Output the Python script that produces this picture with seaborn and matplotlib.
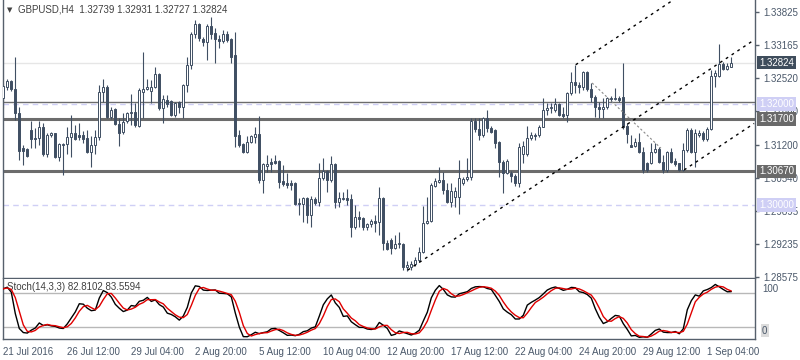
import matplotlib
matplotlib.use("Agg")
import matplotlib.pyplot as plt
import matplotlib.transforms as mtransforms
import numpy as np
import pandas as pd
import seaborn as sns

# GBPUSD H4 bars
opens = [
    1.3212, 1.3234, 1.3246, 1.3230, 1.3183, 1.3113, 1.3111, 1.3149, 1.3133, 1.3133,
    1.3155, 1.3102, 1.3139, 1.3143, 1.3096, 1.3119, 1.3121, 1.3135, 1.3143, 1.3139,
    1.3139, 1.3133, 1.3106, 1.3119, 1.3135, 1.3224, 1.3234, 1.3175, 1.3190, 1.3161,
    1.3145, 1.3167, 1.3183, 1.3185, 1.3157, 1.3224, 1.3230, 1.3226, 1.3234, 1.3260,
    1.3192, 1.3208, 1.3206, 1.3179, 1.3204, 1.3194, 1.3238, 1.3278, 1.3339, 1.3359,
    1.3329, 1.3323, 1.3355, 1.3341, 1.3329, 1.3325, 1.3339, 1.3329, 1.3297, 1.3139,
    1.3121, 1.3106, 1.3125, 1.3135, 1.3141, 1.3050, 1.3078, 1.3086, 1.3088, 1.3088,
    1.3048, 1.3044, 1.3044, 1.3044, 1.3005, 1.3003, 1.3015, 1.2981, 1.3013, 1.3007,
    1.3054, 1.3068, 1.3050, 1.3082, 1.3007, 1.3013, 1.3015, 1.3013, 1.2957, 1.2977,
    1.2975, 1.2957, 1.2963, 1.2969, 1.2967, 1.3015, 1.2926, 1.2931, 1.2916, 1.2924,
    1.2924, 1.2878, 1.2878, 1.2884, 1.2892, 1.2908, 1.2965, 1.2969, 1.3038, 1.3046,
    1.3050, 1.3030, 1.3007, 1.3017, 1.3017, 1.3044, 1.3052, 1.3056, 1.3167, 1.3151,
    1.3139, 1.3173, 1.3153, 1.3149, 1.3125, 1.3086, 1.3064, 1.3064, 1.3058, 1.3044,
    1.3102, 1.3102, 1.3133, 1.3139, 1.3139, 1.3155, 1.3189, 1.3192, 1.3189, 1.3200,
    1.3181, 1.3179, 1.3222, 1.3244, 1.3238, 1.3234, 1.3264, 1.3230, 1.3214, 1.3194,
    1.3190, 1.3194, 1.3212, 1.3210, 1.3212, 1.3214, 1.3157, 1.3119, 1.3117, 1.3125,
    1.3106, 1.3084, 1.3084, 1.3106, 1.3111, 1.3086, 1.3070, 1.3106, 1.3088, 1.3084,
    1.3070, 1.3109, 1.3149, 1.3106, 1.3139, 1.3143, 1.3131, 1.3151, 1.3256, 1.3256,
    1.3280, 1.3270, 1.32739,
]
highs = [
    1.3242, 1.3250, 1.3248, 1.3293, 1.3194, 1.3119, 1.3113, 1.3167, 1.3153, 1.3167,
    1.3163, 1.3143, 1.3145, 1.3143, 1.3123, 1.3123, 1.3155, 1.3179, 1.3159, 1.3163,
    1.3147, 1.3149, 1.3137, 1.3149, 1.3238, 1.3250, 1.3238, 1.3194, 1.3192, 1.3173,
    1.3183, 1.3185, 1.3220, 1.3202, 1.3232, 1.3303, 1.3250, 1.3248, 1.3274, 1.3262,
    1.3218, 1.3218, 1.3208, 1.3204, 1.3206, 1.3240, 1.3293, 1.3343, 1.3367, 1.3361,
    1.3333, 1.3359, 1.3372, 1.3351, 1.3337, 1.3347, 1.3345, 1.3331, 1.3343, 1.3149,
    1.3123, 1.3137, 1.3139, 1.3155, 1.3177, 1.3084, 1.3100, 1.3094, 1.3100, 1.3090,
    1.3080, 1.3064, 1.3050, 1.3046, 1.3015, 1.3017, 1.3017, 1.3019, 1.3017, 1.3084,
    1.3094, 1.3070, 1.3098, 1.3084, 1.3026, 1.3026, 1.3032, 1.3022, 1.3001, 1.2989,
    1.2977, 1.2965, 1.2973, 1.2981, 1.3036, 1.3017, 1.2931, 1.2935, 1.2941, 1.2947,
    1.2926, 1.2890, 1.2890, 1.2898, 1.2918, 1.2999, 1.3017, 1.3044, 1.3054, 1.3076,
    1.3066, 1.3044, 1.3044, 1.3036, 1.3090, 1.3056, 1.3094, 1.3173, 1.3173, 1.3173,
    1.3175, 1.3189, 1.3157, 1.3151, 1.3127, 1.3090, 1.3092, 1.3068, 1.3062, 1.3123,
    1.3127, 1.3157, 1.3145, 1.3143, 1.3159, 1.3212, 1.3202, 1.3202, 1.3212, 1.3202,
    1.3194, 1.3224, 1.3264, 1.3278, 1.3244, 1.3266, 1.3266, 1.3242, 1.3218, 1.3204,
    1.3212, 1.3214, 1.3216, 1.3232, 1.3216, 1.3281, 1.3163, 1.3139, 1.3133, 1.3143,
    1.3115, 1.3086, 1.3123, 1.3123, 1.3115, 1.3100, 1.3107, 1.3113, 1.3094, 1.3084,
    1.3123, 1.3153, 1.3153, 1.3151, 1.3149, 1.3147, 1.3155, 1.3268, 1.3268, 1.3319,
    1.3283, 1.3281, 1.32931,
]
lows = [
    1.3192, 1.3228, 1.3226, 1.3169, 1.3090, 1.3080, 1.3096, 1.3113, 1.3113, 1.3119,
    1.3098, 1.3096, 1.3135, 1.3094, 1.3088, 1.3060, 1.3102, 1.3096, 1.3129, 1.3129,
    1.3123, 1.3104, 1.3076, 1.3102, 1.3129, 1.3204, 1.3173, 1.3171, 1.3159, 1.3117,
    1.3141, 1.3163, 1.3159, 1.3155, 1.3155, 1.3173, 1.3228, 1.3202, 1.3232, 1.3189,
    1.3163, 1.3194, 1.3177, 1.3175, 1.3183, 1.3173, 1.3224, 1.3270, 1.3331, 1.3325,
    1.3315, 1.3287, 1.3329, 1.3281, 1.3311, 1.3321, 1.3323, 1.3281, 1.3115, 1.3115,
    1.3104, 1.3104, 1.3123, 1.3123, 1.3044, 1.3024, 1.3066, 1.3066, 1.3082, 1.3034,
    1.3038, 1.3034, 1.3030, 1.3001, 1.2981, 1.2967, 1.2965, 1.2957, 1.3001, 1.2999,
    1.3050, 1.3026, 1.3046, 1.2995, 1.2997, 1.3011, 1.3001, 1.2937, 1.2953, 1.2957,
    1.2951, 1.2951, 1.2957, 1.2947, 1.2941, 1.2912, 1.2912, 1.2904, 1.2914, 1.2916,
    1.2872, 1.2870, 1.2872, 1.2880, 1.2888, 1.2906, 1.2963, 1.2967, 1.3036, 1.3044,
    1.3022, 1.3005, 1.2997, 1.2997, 1.2983, 1.3040, 1.3048, 1.3050, 1.3145, 1.3129,
    1.3135, 1.3145, 1.3143, 1.3113, 1.3056, 1.3024, 1.3062, 1.3046, 1.3038, 1.3036,
    1.3084, 1.3098, 1.3129, 1.3129, 1.3135, 1.3155, 1.3179, 1.3183, 1.3185, 1.3177,
    1.3173, 1.3165, 1.3218, 1.3222, 1.3222, 1.3228, 1.3226, 1.3204, 1.3175, 1.3173,
    1.3173, 1.3190, 1.3204, 1.3208, 1.3204, 1.3151, 1.3123, 1.3115, 1.3115, 1.3104,
    1.3064, 1.3066, 1.3082, 1.3104, 1.3084, 1.3064, 1.3066, 1.3084, 1.3078, 1.3068,
    1.3068, 1.3106, 1.3104, 1.3076, 1.3135, 1.3127, 1.3127, 1.3149, 1.3234, 1.3254,
    1.3268, 1.3268, 1.32727,
]
closes = [
    1.3236, 1.3246, 1.3230, 1.3183, 1.3107, 1.3107, 1.3098, 1.3131, 1.3131, 1.3155,
    1.3102, 1.3139, 1.3143, 1.3096, 1.3121, 1.3121, 1.3135, 1.3143, 1.3131, 1.3135,
    1.3131, 1.3106, 1.3119, 1.3135, 1.3224, 1.3234, 1.3175, 1.3189, 1.3161, 1.3143,
    1.3165, 1.3183, 1.3185, 1.3159, 1.3228, 1.3230, 1.3234, 1.3234, 1.3260, 1.3192,
    1.3210, 1.3200, 1.3179, 1.3202, 1.3194, 1.3238, 1.3278, 1.3339, 1.3359, 1.3331,
    1.3323, 1.3355, 1.3339, 1.3329, 1.3325, 1.3339, 1.3327, 1.3293, 1.3137, 1.3119,
    1.3106, 1.3125, 1.3137, 1.3141, 1.3050, 1.3082, 1.3082, 1.3082, 1.3084, 1.3046,
    1.3042, 1.3040, 1.3040, 1.3003, 1.3003, 1.3015, 1.2981, 1.3013, 1.3005, 1.3054,
    1.3068, 1.3050, 1.3082, 1.3007, 1.3015, 1.3015, 1.3011, 1.2957, 1.2977, 1.2973,
    1.2957, 1.2963, 1.2969, 1.2965, 1.3015, 1.2926, 1.2914, 1.2916, 1.2924, 1.2926,
    1.2878, 1.2882, 1.2884, 1.2892, 1.2908, 1.2965, 1.2969, 1.3040, 1.3048, 1.3050,
    1.3030, 1.3007, 1.3028, 1.3028, 1.3054, 1.3052, 1.3056, 1.3167, 1.3151, 1.3139,
    1.3173, 1.3153, 1.3145, 1.3123, 1.3086, 1.3064, 1.3088, 1.3058, 1.3044, 1.3115,
    1.3117, 1.3133, 1.3139, 1.3137, 1.3155, 1.3189, 1.3192, 1.3194, 1.3200, 1.3179,
    1.3177, 1.3222, 1.3244, 1.3238, 1.3234, 1.3264, 1.3230, 1.3214, 1.3194, 1.3190,
    1.3194, 1.3212, 1.3210, 1.3212, 1.3208, 1.3155, 1.3141, 1.3115, 1.3125, 1.3106,
    1.3070, 1.3070, 1.3106, 1.3111, 1.3086, 1.3070, 1.3106, 1.3086, 1.3082, 1.3070,
    1.3109, 1.3149, 1.3106, 1.3143, 1.3143, 1.3131, 1.3151, 1.3256, 1.3262, 1.3280,
    1.3270, 1.3276, 1.32824,
]

time_labels = ["21 Jul 2016", "26 Jul 12:00", "29 Jul 04:00", "2 Aug 20:00",
               "5 Aug 12:00", "10 Aug 04:00", "12 Aug 20:00", "17 Aug 12:00",
               "22 Aug 04:00", "24 Aug 20:00", "29 Aug 12:00", "1 Sep 04:00"]
time_label_bars = [0, 16, 32, 48, 64, 80, 96, 112, 128, 144, 160, 176]

price_ticks = [1.33825, 1.33165, 1.32520, 1.31860, 1.31200,
               1.30540, 1.29895, 1.29235, 1.28575]

# support / resistance levels and channel anchors (bar, price)
support_levels = [1.3170, 1.3067]
minor_level = 1.3205
round_levels = [1.3200, 1.3000]
last_price = 1.32824
channel_low = [(101.1, 1.2872), (187.7, 1.3327)]
channel_high = [(143.1, 1.3278), (175.0, 1.34455)]
channel_mid = [(170.2, 1.3070), (187.7, 1.3162)]
retrace_line = [(147.2, 1.3242), (164.4, 1.3113)]

DARK = "#404f63"
SPINE = "#56606c"
LABEL = "#4a586a"
LEVEL = "#6c6c6c"
LAVENDER = "#cfcff5"

sns.set_style("white")
plt.rcParams["font.family"] = ["Liberation Sans", "DejaVu Sans"]

df = pd.DataFrame({"open": opens, "high": highs, "low": lows, "close": closes})
df["bar"] = np.arange(len(df))
up = df["close"] >= df["open"]
body_lo = df[["open", "close"]].min(axis=1)
body_h = (df["close"] - df["open"]).abs().clip(lower=0.00005)

# Stochastic(14,3,3) from the bars
ll = df["low"].rolling(14, min_periods=1).min()
hh = df["high"].rolling(14, min_periods=1).max()
k = 100 * (df["close"] - ll).rolling(3, min_periods=1).sum() / (hh - ll).rolling(3, min_periods=1).sum()
d = k.rolling(3, min_periods=1).mean()

fig = plt.figure(figsize=(8, 3.6), dpi=100)
ax = fig.add_axes([3 / 800, 1 - 278 / 360, 752 / 800, 278 / 360])
ax2 = fig.add_axes([3 / 800, 1 - 339 / 360, 752 / 800, 60 / 360])

xlim = (-0.075, 187.925)

# levels
ax.axhline(last_price, color="#e6e6e6", lw=1, zorder=1)
ax.axhline(minor_level, color=LEVEL, lw=1, zorder=1)
for lv in round_levels:
    ax.axhline(lv, color=LAVENDER, lw=1, ls=(0, (4, 3)), zorder=1)
for lv in support_levels:
    ax.axhline(lv, color=LEVEL, lw=2.2, zorder=1)

# trend channel
for seg in [channel_low, channel_high, channel_mid]:
    xs, ys = zip(*seg)
    ax.plot(xs, ys, color="black", lw=1, ls=(0, (2, 3)), zorder=4)
xs, ys = zip(*retrace_line)
ax.plot(xs, ys, color="#8a8a8a", lw=0.8, ls=(0, (2, 2)), zorder=4)

# candles: wicks then bodies (hollow = up, filled = down)
ax.vlines(df["bar"], df["low"], df["high"], color=DARK, lw=0.8, zorder=2)
ax.bar(df["bar"][up], body_h[up], bottom=body_lo[up], width=0.55, color="white",
       edgecolor=DARK, linewidth=0.7, zorder=3)
ax.bar(df["bar"][~up], body_h[~up], bottom=body_lo[~up], width=0.55, color=DARK,
       edgecolor=DARK, linewidth=0.7, zorder=3)

ax.set_xlim(*xlim)
ax.set_ylim(1.28564, 1.3406)
ax.set_xticks([])
ax.yaxis.tick_right()
ax.set_yticks(price_ticks)
ax.set_yticklabels([f"{p:.5f}" for p in price_ticks])
ax.tick_params(axis="y", direction="out", length=3, width=1, color=SPINE,
               labelsize=7, labelcolor=LABEL, pad=3)
for side in ["left", "right", "bottom"]:
    ax.spines[side].set_color(SPINE)
    ax.spines[side].set_linewidth(1)
ax.spines["top"].set_visible(False)

# price boxes on the right
trans = mtransforms.blended_transform_factory(ax.transAxes, ax.transData)
boxes = [(last_price, "#3f4d5c"), (1.3200, LAVENDER), (1.3170, "#6a6a6a"),
         (1.3067, "#6a6a6a"), (1.3000, LAVENDER)]
for p, c in boxes:
    ax.text(1.0 + 4 / 752, p, f"{p:.5f}", transform=trans, ha="left", va="center",
            fontsize=7, color="white", zorder=10, clip_on=False,
            bbox=dict(boxstyle="square,pad=0.2", fc=c, ec="none"))

fig.text(7 / 800, 1 - 10 / 360, "\u25bc", fontsize=5, color="#404040", va="center",
         family="DejaVu Sans")
fig.text(18 / 800, 1 - 10 / 360, "GBPUSD,H4  1.32739 1.32931 1.32727 1.32824",
         fontsize=7, color="#404040", va="center")

# stochastic panel
ax2.axhline(80, color="#b8b8b8", lw=1, zorder=1)
ax2.axhline(20, color="#b8b8b8", lw=1, zorder=1)
sns.lineplot(x=df["bar"], y=k, color="black", lw=1, ax=ax2, zorder=3)
sns.lineplot(x=df["bar"], y=d, color="#e00000", lw=1, ax=ax2, zorder=4)
ax2.set_xlim(*xlim)
ax2.set_ylim(-0.6, 105.2)
ax2.set_xlabel("")
ax2.set_ylabel("")
ax2.set_yticks([])
ax2.set_xticks(time_label_bars)
ax2.set_xticklabels(time_labels, ha="left")
ax2.tick_params(axis="x", direction="out", length=3, width=1, color=SPINE,
                labelsize=7, labelcolor=LABEL, pad=3)
for side in ["left", "right", "bottom"]:
    ax2.spines[side].set_color(SPINE)
    ax2.spines[side].set_linewidth(1)
ax2.spines["top"].set_visible(False)
t2 = mtransforms.blended_transform_factory(ax2.transAxes, ax2.transData)
ax2.text(4 / 752, 91, "Stoch(14,3,3) 82.8102 83.5594", transform=t2,
         fontsize=7, color="#404040", va="center")
ax2.text(1.0 + 7 / 752, 88, "100", transform=t2, fontsize=7, color=LABEL, va="center", clip_on=False)
ax2.text(1.0 + 7 / 752, 14, "0", transform=t2, fontsize=7, color=LABEL, va="center", clip_on=False,
         bbox=dict(boxstyle="square,pad=0.15", fc="#dcdcdc", ec="none"))

fig.savefig("out.png", dpi=100)
